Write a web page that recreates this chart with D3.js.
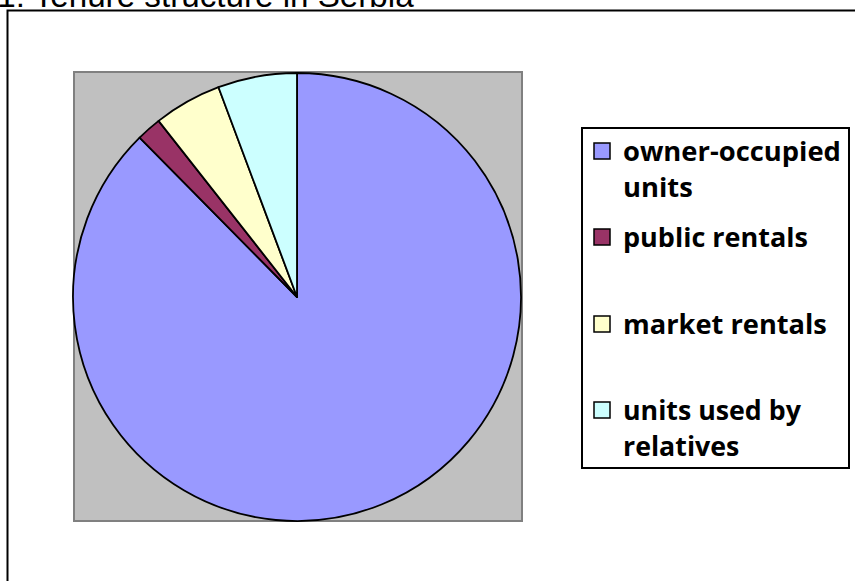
<!DOCTYPE html>
<html>
<head>
<meta charset="utf-8">
<script src="https://cdn.jsdelivr.net/npm/d3@7"></script>
<style>
  html, body { margin: 0; padding: 0; background: #fff; overflow: hidden; }
</style>
</head>
<body>
<div id="chart"></div>
<script>
// Tenure structure in Serbia — pie chart, Excel-style
const categories = ["owner-occupied units", "public rentals", "market rentals", "units used by relatives"]
const shares = [87.6, 1.8, 4.9, 5.7]
const colors = ["#9999ff", "#993366", "#ffffcc", "#ccffff"]
// legend lines (wrapped like in the original)
const legendLines = [["owner-occupied", "units"], ["public rentals"], ["market rentals"], ["units used by", "relatives"]]
const titlePrefix = "Figure 1: "
const titleText = "Tenure structure in Serbia"

const W = 859, H = 581

const svg = d3.select("#chart").append("svg")
  .attr("width", W).attr("height", H)
  .style("display", "block")

// title, cropped by the top edge as in the original picture.
// Size it so that "Tenure structure in " spans ~275px, starting at x=25.
const title = svg.append("text")
  .attr("y", 7)
  .attr("font-family", "'Liberation Sans', Arial, sans-serif")
  .attr("font-size", 20)
  .attr("fill", "#000")
const probe = svg.append("text")
  .attr("font-family", "'Liberation Sans', Arial, sans-serif")
  .attr("font-size", 20)
  .attr("visibility", "hidden")
  .text("Tenure structure in ")
const fs = 20 * 275 / probe.node().getComputedTextLength()
probe.attr("font-size", fs).text(titlePrefix)
const prefixW = probe.node().getComputedTextLength()
probe.remove()
title.attr("font-size", fs)
  .attr("x", 25 - prefixW)
  .text(titlePrefix + titleText)

// outer chart frame (right and bottom run off the picture)
svg.append("path")
  .attr("d", "M7.5,581 L7.5,10.5 L855,10.5")
  .attr("fill", "none").attr("stroke", "#000").attr("stroke-width", 2)

// plot area
const plot = { x: 74, y: 72, w: 448, h: 449 }
svg.append("rect")
  .attr("x", plot.x).attr("y", plot.y).attr("width", plot.w).attr("height", plot.h)
  .attr("fill", "#c0c0c0").attr("stroke", "#808080").attr("stroke-width", 2)

const cx = 297, cy = 297, r = 224

const pie = d3.pie().sort(null).value(d => d)
const arc = d3.arc().innerRadius(0).outerRadius(r)

svg.append("g")
  .attr("transform", `translate(${cx},${cy})`)
  .selectAll("path")
  .data(pie(shares))
  .join("path")
  .attr("d", arc)
  .attr("fill", (_, i) => colors[i])
  .attr("stroke", "#000")
  .attr("stroke-width", 1.8)
  .attr("stroke-linejoin", "round")

// legend
const lg = svg.append("g")
lg.append("rect")
  .attr("x", 582).attr("y", 128).attr("width", 267).attr("height", 340)
  .attr("fill", "#fff").attr("stroke", "#000").attr("stroke-width", 2)

const itemTop = [143, 229, 316, 402]  // top of each swatch
const lineGap = 36

const items = lg.selectAll("g.item")
  .data(categories)
  .join("g")
  .attr("class", "item")

items.append("rect")
  .attr("x", 594).attr("y", (_, i) => itemTop[i])
  .attr("width", 16).attr("height", 16)
  .attr("fill", (_, i) => colors[i])
  .attr("stroke", "#000").attr("stroke-width", 1.5)

items.each(function (_, i) {
  const t = d3.select(this).append("text")
    .attr("font-family", "'Open Sans', Lato, sans-serif")
    .attr("font-weight", 700)
    .attr("font-size", 25)
    .attr("fill", "#000")
  legendLines[i].forEach((line, j) => {
    t.append("tspan")
      .attr("x", 623)
      .attr("y", itemTop[i] + 18 + j * lineGap)
      .text(line)
  })
})
// stretch text to the widths seen in the original
lg.selectAll("text").each(function () {
  const sel = d3.select(this)
  const first = sel.select("tspan").node()
  const w = first.getComputedTextLength()
  const target = { "owner-occupied": 218, "public rentals": 185, "market rentals": 204, "units used by": 178 }[first.textContent]
  if (target) sel.attr("font-size", 25 * target / w)
})
</script>
</body>
</html>
